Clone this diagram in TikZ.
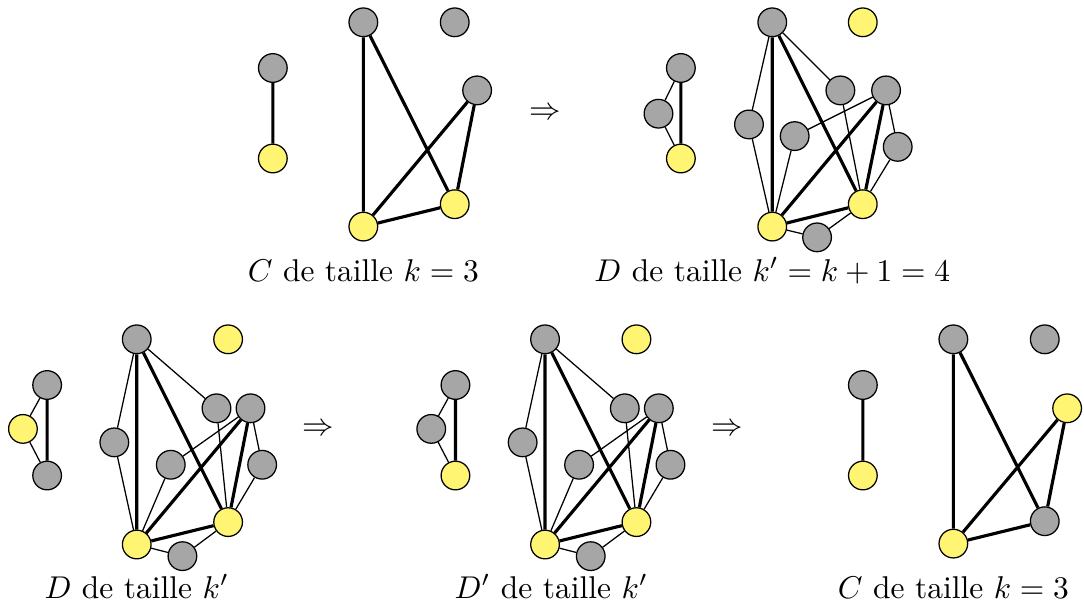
\documentclass[tikz,border=0pt]{standalone}
\usepackage{amsmath,amssymb}
\usepackage{xcolor}
\usepackage{tikz}
\usetikzlibrary{positioning,calc}

\definecolor{sommetgris}{HTML}{A6A6A6}
\definecolor{sommetjaune}{HTML}{FFF573}

\begin{document}
\begin{tikzpicture}[
  vertex/.style={circle, draw, inner sep=0pt, minimum size=0.32cm},
  gris/.style={vertex, fill=sommetgris},
  jaune/.style={vertex, fill=sommetjaune},
  fort/.style={line width=1pt},
  fin/.style={line width=0.4pt},
  legende/.style={anchor=base}
]
  \useasboundingbox (0,0) rectangle (12.098,-6.797);

  % C de taille k = 3 (en haut)
  \begin{scope}[shift={(4.055,-0.249)}]
    \node[gris]  (C1) at (-1.01,-0.51) {};
    \node[jaune] (C3) at (-1.01,-1.52) {};
    \node[gris]  (C4) at (0,0) {};
    \node[gris]  (C5) at (1.02,0) {};
    \node[gris]  (C6) at (1.27,-0.76) {};
    \node[jaune] (C7) at (1.02,-2.03) {};
    \node[jaune] (C8) at (0,-2.28) {};
    \draw[fort] (C1) -- (C3) (C4) -- (C8) (C4) -- (C7)
                (C6) -- (C8) (C6) -- (C7) (C8) -- (C7);
    \node[legende] (Clab) at (0,-2.89) {$C$ de taille $k=3$};
  \end{scope}

  \node (T1) at (6.083,-1.269) {$\Rightarrow$};

  % D de taille k' = k+1 = 4 (en haut)
  \begin{scope}[shift={(8.619,-0.249)}]
    \node[gris]  (D1) at (-1.02,-0.51) {};
    \node[gris]  (D2) at (-1.27,-1.02) {};
    \node[jaune] (D3) at (-1.02,-1.52) {};
    \node[gris]  (D4) at (0,0) {};
    \node[jaune] (D5) at (1.01,0) {};
    \node[gris]  (D6) at (1.27,-0.76) {};
    \node[jaune] (D7) at (1.01,-2.03) {};
    \node[jaune] (D8) at (0,-2.28) {};
    \node[gris]  (D9) at (0.76,-0.76) {};
    \node[gris]  (D10) at (-0.26,-1.14) {};
    \node[gris]  (D11) at (0.25,-1.27) {};
    \node[gris]  (D12) at (1.40,-1.39) {};
    \node[gris]  (D13) at (0.50,-2.40) {};
    \draw[fin] (D1) -- (D2) (D2) -- (D3) (D4) -- (D10) (D10) -- (D8)
               (D4) -- (D9) (D9) -- (D7) (D11) -- (D6) (D11) -- (D8)
               (D6) -- (D12) (D12) -- (D7) (D8) -- (D13) (D13) -- (D7);
    \draw[fort] (D1) -- (D3) (D4) -- (D8) (D4) -- (D7)
                (D6) -- (D8) (D6) -- (D7) (D8) -- (D7);
    \node[legende] (Dlab) at (0,-2.89) {$D$ de taille $k'=k+1=4$};
  \end{scope}

  % D de taille k' (en bas)
  \begin{scope}[shift={(1.526,-3.787)}]
    \node[gris]  (E1) at (-1.00,-0.51) {};
    \node[jaune] (E2) at (-1.27,-1.00) {};
    \node[gris]  (E3) at (-1.00,-1.52) {};
    \node[gris]  (E4) at (0,0) {};
    \node[jaune] (E5) at (1.02,0) {};
    \node[gris]  (E6) at (1.27,-0.77) {};
    \node[jaune] (E7) at (1.02,-2.04) {};
    \node[jaune] (E8) at (0,-2.29) {};
    \node[gris]  (E9) at (0.89,-0.77) {};
    \node[gris]  (E10) at (-0.25,-1.15) {};
    \node[gris]  (E11) at (0.38,-1.40) {};
    \node[gris]  (E12) at (1.40,-1.40) {};
    \node[gris]  (E13) at (0.51,-2.42) {};
    \draw[fin] (E1) -- (E2) (E2) -- (E3) (E4) -- (E10) (E10) -- (E8)
               (E4) -- (E9) (E9) -- (E7) (E11) -- (E6) (E11) -- (E8)
               (E6) -- (E12) (E12) -- (E7) (E8) -- (E13) (E13) -- (E7);
    \draw[fort] (E1) -- (E3) (E4) -- (E8) (E4) -- (E7)
                (E6) -- (E8) (E6) -- (E7) (E8) -- (E7);
    \node[legende] (Elab) at (0,-2.89) {$D$ de taille $k'$};
  \end{scope}

  \node (T2) at (3.553,-4.799) {$\Rightarrow$};

  % D' de taille k'
  \begin{scope}[shift={(6.083,-3.787)}]
    \node[gris]  (F1) at (-1.00,-0.51) {};
    \node[gris]  (F2) at (-1.27,-1.00) {};
    \node[jaune] (F3) at (-1.00,-1.52) {};
    \node[gris]  (F4) at (0,0) {};
    \node[jaune] (F5) at (1.02,0) {};
    \node[gris]  (F6) at (1.27,-0.77) {};
    \node[jaune] (F7) at (1.02,-2.04) {};
    \node[jaune] (F8) at (0,-2.29) {};
    \node[gris]  (F9) at (0.89,-0.77) {};
    \node[gris]  (F10) at (-0.25,-1.15) {};
    \node[gris]  (F11) at (0.38,-1.40) {};
    \node[gris]  (F12) at (1.40,-1.40) {};
    \node[gris]  (F13) at (0.51,-2.42) {};
    \draw[fin] (F1) -- (F2) (F2) -- (F3) (F4) -- (F10) (F10) -- (F8)
               (F4) -- (F9) (F9) -- (F7) (F11) -- (F6) (F11) -- (F8)
               (F6) -- (F12) (F12) -- (F7) (F8) -- (F13) (F13) -- (F7);
    \draw[fort] (F1) -- (F3) (F4) -- (F8) (F4) -- (F7)
                (F6) -- (F8) (F6) -- (F7) (F8) -- (F7);
    \node[legende] (Flab) at (0.07,-2.89) {$D'$ de taille $k'$};
  \end{scope}

  \node (T3) at (8.114,-4.799) {$\Rightarrow$};

  % C de taille k = 3 (en bas)
  \begin{scope}[shift={(10.64,-3.787)}]
    \node[gris]  (G1) at (-1.01,-0.51) {};
    \node[jaune] (G3) at (-1.01,-1.52) {};
    \node[gris]  (G4) at (0,0) {};
    \node[gris]  (G5) at (1.02,0) {};
    \node[jaune] (G6) at (1.27,-0.77) {};
    \node[gris]  (G7) at (1.02,-2.03) {};
    \node[jaune] (G8) at (0,-2.28) {};
    \draw[fort] (G1) -- (G3) (G4) -- (G8) (G4) -- (G7)
                (G6) -- (G8) (G6) -- (G7) (G8) -- (G7);
    \node[legende] (Glab) at (0,-2.89) {$C$ de taille $k=3$};
  \end{scope}
\end{tikzpicture}
\end{document}
